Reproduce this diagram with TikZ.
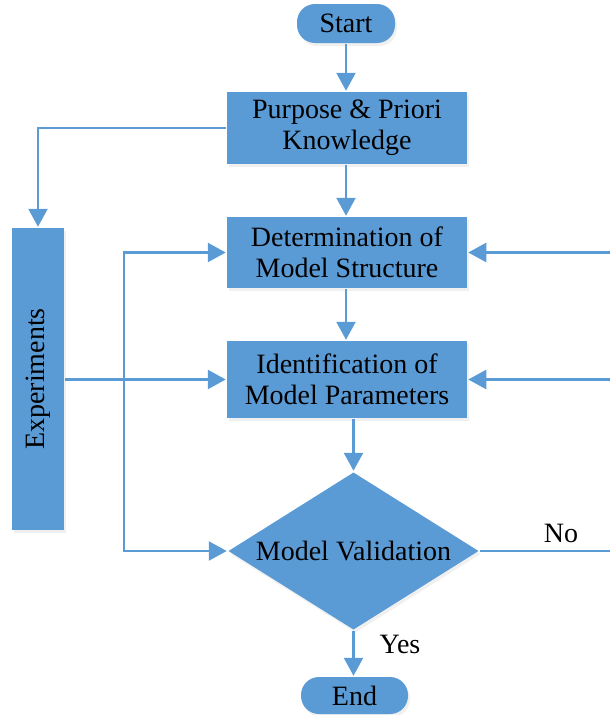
\documentclass[tikz,border=0pt]{standalone}
\usepackage{fontspec}
\setmainfont{Liberation Serif}
\usetikzlibrary{arrows.meta,shapes.geometric,shadows}
\definecolor{flowblue}{HTML}{5B9BD5}

\begin{document}
\begin{tikzpicture}[x=1pt,y=-1pt,
    line width=2.5pt, draw=flowblue,
    tri/.style={-{Triangle[width=19pt,length=18pt]}},
    flowbox/.style={rectangle, fill=flowblue, inner sep=0pt, align=center,
        drop shadow={shadow xshift=2pt, shadow yshift=-3pt, opacity=0.12}},
    pill/.style={flowbox, rounded corners=18pt},
    every node/.style={font=\fontsize{28}{31}\selectfont}]

    \useasboundingbox (0,0) rectangle (610,715);

    \node[pill, minimum width=98pt, minimum height=39pt] (start) at (346,23.5) {Start};
    \node[flowbox, minimum width=240pt, minimum height=72pt] (purp) at (347,128) {Purpose \& Priori\\Knowledge};
    \node[flowbox, minimum width=240pt, minimum height=71pt] (struct) at (347,252.5) {Determination of\\Model Structure};
    \node[flowbox, minimum width=240pt, minimum height=77pt] (param) at (347,379.5) {Identification of\\Model Parameters};
    \node[diamond, aspect=1.59, fill=flowblue, inner sep=0pt, minimum width=251pt, minimum height=158pt,
        drop shadow={shadow xshift=2pt, shadow yshift=-3pt, opacity=0.12}] (valid) at (353.5,551) {Model Validation};
    \node[pill, minimum width=107pt, minimum height=37pt] (finish) at (354.5,695.5) {End};
    \node[flowbox, minimum width=52pt, minimum height=302pt] (expt) at (38,379) {};
    \node[rotate=90] (exptxt) at (expt.center) {Experiments};

    \coordinate (loop) at (124,551);
    \coordinate (rstruct) at (612,252.5);
    \coordinate (rparam) at (612,379.5);
    \coordinate (rno) at (612,551);

    % main column
    \draw[tri] (start.south) -- (start.south |- purp.north);
    \draw[tri] (start.south |- purp.south) -- (start.south |- struct.north);
    \draw[tri] (start.south |- struct.south) -- (start.south |- param.north);
    \draw[tri] (valid.north |- param.south) -- (valid.north);
    \draw[tri] (valid.south) -- (valid.south |- finish.north);

    % side branches
    \draw[tri] (purp.west) -| (expt.north);
    \draw[tri] (expt.east |- param.west) -- (param.west);
    \draw[{Triangle[width=19pt,length=18pt]}-{Triangle[width=19pt,length=18pt]}]
        (struct.west) -| (loop) -- (valid.west);

    % right side
    \draw[tri] (rstruct) -- (struct.east);
    \draw[tri] (rparam) -- (param.east);
    \draw (valid.east) -- (rno);

    \node (nolbl) at (561,533) {No};
    \node (yeslbl) at (400,644) {Yes};

\end{tikzpicture}
\end{document}
